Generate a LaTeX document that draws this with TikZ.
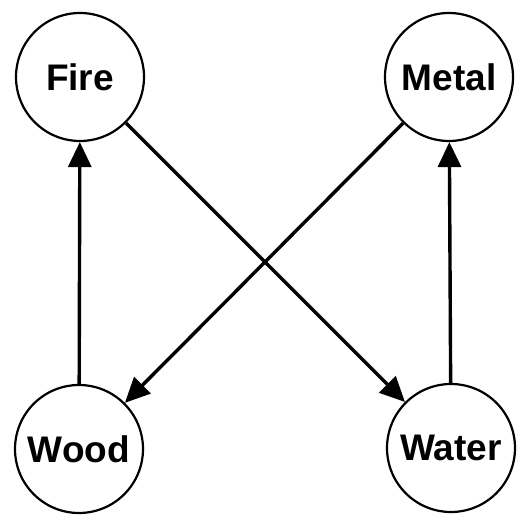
\documentclass[tikz,border=0pt]{standalone}
\usepackage{fontspec}
\setmainfont{Liberation Sans}
\usetikzlibrary{arrows.meta}
\begin{document}
\begin{tikzpicture}[x=1pt,y=1pt,
 elem/.style={circle,draw,line width=2.2pt,minimum size=128pt,inner sep=0pt,font=\bfseries\fontsize{37}{37}\selectfont},
 rel/.style={line width=3.4pt,-{Triangle[length=25pt,width=23pt]}}]
\useasboundingbox (0,0) rectangle (525,-518);
\node[elem] (fire) at (80,-77) {Fire};
\node[elem] (metal) at (449,-77) {Metal};
\node[elem] (wood) at (79,-449) {Wood};
\node[elem] (water) at (451,-448) {Water};
\draw[rel] (wood) -- (fire);
\draw[rel] (water) -- (metal);
\draw[rel] (fire) -- (water);
\draw[rel] (metal) -- (wood);
\end{tikzpicture}
\end{document}
